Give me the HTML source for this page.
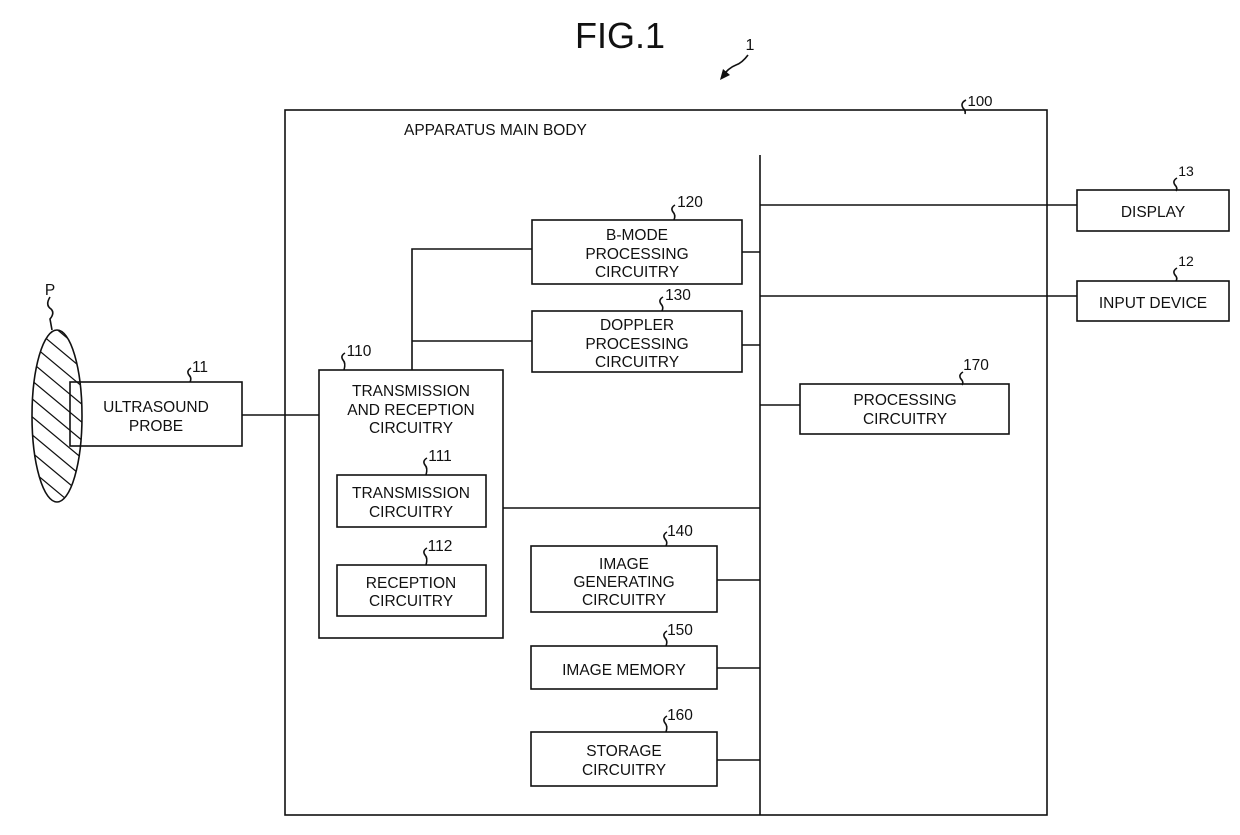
<!DOCTYPE html>
<html><head><meta charset="utf-8"><style>
html,body{margin:0;padding:0;background:#fff}
svg text{font-family:"Liberation Sans",sans-serif;fill:#111}
</style></head><body>
<svg width="1240" height="830" viewBox="0 0 1240 830" xmlns="http://www.w3.org/2000/svg">
<defs>
<clipPath id="el"><ellipse cx="57" cy="416" rx="25" ry="86"/></clipPath>
</defs>
<g fill="none" stroke="#111" stroke-width="1.6">
<!-- hatched ellipse -->
<g clip-path="url(#el)" stroke-width="1.2">
<path d="M0,300 L120,400 M0,318 L120,418 M0,336 L120,436 M0,354 L120,454 M0,372 L120,472 M0,390 L120,490 M0,408 L120,508 M0,426 L120,526 M0,444 L120,544 M0,282 L120,382 M0,264 L120,364 M0,246 L120,346 M0,228 L120,328 M0,462 L120,562"/>
</g>
<ellipse cx="57" cy="416" rx="25" ry="86"/>
<path d="M50,297 q-5,8 1,12 q4,4 -1,10 l2,11"/>
<!-- main body -->
<rect x="285" y="110" width="762" height="705"/>
<path d="M966,100 q-6,3 -3,8 q3,3 2,6"/>
<!-- bus -->
<path d="M760,155 V815"/>
<!-- display / input -->
<rect x="1077" y="190" width="152" height="41"/>
<path d="M760,205 H1077"/>
<rect x="1077" y="281" width="152" height="40"/>
<path d="M760,296 H1077"/>
<path d="M1177,178 q-5,3 -2,7 q3,3 1,6"/>
<path d="M1177,268 q-5,3 -2,7 q3,3 1,6"/>
<!-- processing -->
<rect x="800" y="384" width="209" height="50"/>
<path d="M760,405 H800"/>
<path d="M963,372 q-5,3 -2,7 q3,3 1,6"/>
<!-- bmode / doppler -->
<rect x="532" y="220" width="210" height="64"/>
<rect x="532" y="311" width="210" height="61"/>
<path d="M742,252 H760 M742,345 H760"/>
<path d="M412,370 V249 H532 M412,341 H532"/>
<path d="M675,205 q-5,3 -2,7 q3,3 1,8"/>
<path d="M663,297 q-5,3 -2,7 q3,3 1,7"/>
<!-- T/R -->
<rect x="319" y="370" width="184" height="268"/>
<rect x="337" y="475" width="149" height="52"/>
<rect x="337" y="565" width="149" height="51"/>
<path d="M503,508 H760"/>
<path d="M242,415 H319"/>
<path d="M345,353 q-5,3 -2,7 q3,3 1,10"/>
<path d="M427,458 q-5,3 -2,7 q3,3 1,10"/>
<path d="M427,548 q-5,3 -2,7 q3,3 1,10"/>
<!-- lower boxes -->
<rect x="531" y="546" width="186" height="66"/>
<rect x="531" y="646" width="186" height="43"/>
<rect x="531" y="732" width="186" height="54"/>
<path d="M717,580 H760 M717,668 H760 M717,760 H760"/>
<path d="M667,532 q-5,3 -2,7 q3,3 1,7"/>
<path d="M667,631 q-5,3 -2,7 q3,3 1,8"/>
<path d="M667,716 q-5,3 -2,7 q3,3 1,9"/>
<!-- probe -->
<rect x="70" y="382" width="172" height="64"/>
<path d="M191,368 q-5,3 -2,7 q3,3 1,7"/>
<!-- arrow 1 -->
<path d="M748,55 q-6,8 -12,10 q-8,3 -14,12"/>
</g>
<path d="M720,80 l3,-11 l7,6 z" fill="#111"/>
<g font-size="15.5" text-anchor="middle">
<text x="620" y="48" font-size="36">FIG.1</text>
<text x="750" y="50" font-size="16">1</text>
<text x="980" y="106" font-size="15">100</text>
<text x="404" y="135" text-anchor="start" x="294">APPARATUS MAIN BODY</text>
<text x="1186" y="176" font-size="14">13</text>
<text x="1186" y="266" font-size="14">12</text>
<text x="1153" y="217">DISPLAY</text>
<text x="1153" y="308">INPUT DEVICE</text>
<text x="976" y="370">170</text>
<text x="905" y="405">PROCESSING</text>
<text x="905" y="424">CIRCUITRY</text>
<text x="690" y="207">120</text>
<text x="637" y="240">B-MODE</text>
<text x="637" y="259">PROCESSING</text>
<text x="637" y="277">CIRCUITRY</text>
<text x="678" y="300">130</text>
<text x="637" y="330">DOPPLER</text>
<text x="637" y="349">PROCESSING</text>
<text x="637" y="367">CIRCUITRY</text>
<text x="359" y="356">110</text>
<text x="411" y="396">TRANSMISSION</text>
<text x="411" y="415">AND RECEPTION</text>
<text x="411" y="433">CIRCUITRY</text>
<text x="440" y="461">111</text>
<text x="411" y="498">TRANSMISSION</text>
<text x="411" y="517">CIRCUITRY</text>
<text x="440" y="551">112</text>
<text x="411" y="588">RECEPTION</text>
<text x="411" y="606">CIRCUITRY</text>
<text x="680" y="536">140</text>
<text x="624" y="569">IMAGE</text>
<text x="624" y="587">GENERATING</text>
<text x="624" y="605">CIRCUITRY</text>
<text x="680" y="635">150</text>
<text x="624" y="675">IMAGE MEMORY</text>
<text x="680" y="720">160</text>
<text x="624" y="756">STORAGE</text>
<text x="624" y="775">CIRCUITRY</text>
<text x="200" y="372">11</text>
<text x="156" y="412">ULTRASOUND</text>
<text x="156" y="431">PROBE</text>
<text x="50" y="295">P</text>
</g>
</svg>
</body></html>
